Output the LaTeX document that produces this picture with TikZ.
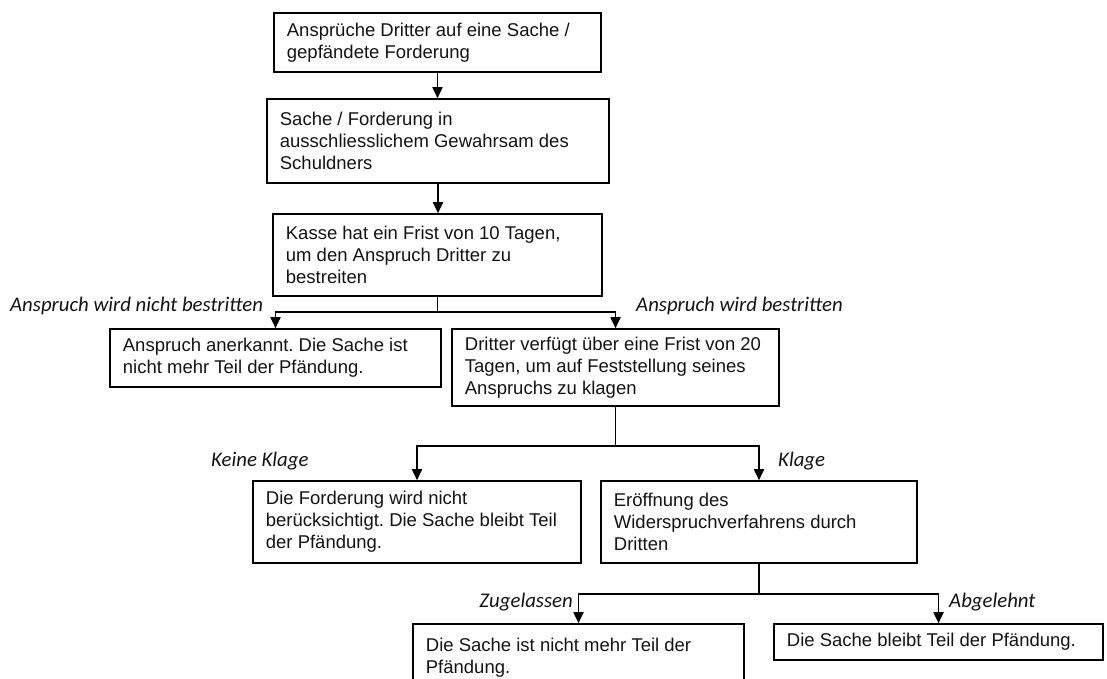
\documentclass[tikz,border=0pt]{standalone}
\usepackage{fontspec}
\setmainfont{Liberation Sans}
\newfontfamily\labfont{Carlito}
\usetikzlibrary{arrows.meta,calc}
\frenchspacing
\tikzset{
  boxstyle/.style={draw=black, line width=1.6pt, rectangle, inner sep=0pt},
  boxtext/.style={align=left, inner sep=0pt, text=black!92, font=\fontsize{18.5}{22}\selectfont},
  conn/.style={draw=black, line width=1.8pt, -{Triangle[length=11pt,width=10pt]}},
  plain/.style={draw=black, line width=1.8pt},
  lab/.style={inner sep=0pt, text=black!92, font=\labfont\itshape\fontsize{20.8}{24}\selectfont}
}
\newcommand{\flowbox}[6]{%
  \node[boxstyle, minimum width=#4pt, minimum height=#5pt] (#1) at (#2,#3) {};
  \node[boxtext, anchor=west] (#1t) at ([xshift=13.5pt]#1.west) {#6};}
\begin{document}
\begin{tikzpicture}[x=1pt,y=-1pt]
\useasboundingbox (0,0) rectangle (1107,679);
\clip (0,0) rectangle (1107,679);
\fill[white] (0,0) rectangle (1107,679);
\flowbox{b1}{437.5}{42.5}{327}{59}{Ansprüche Dritter auf eine Sache /\\gepfändete Forderung}
\flowbox{b2}{438}{141}{342}{84}{Sache / Forderung in\\ausschliesslichem Gewahrsam des\\Schuldners}
\flowbox{b3}{437.5}{255}{329}{82}{Kasse hat ein Frist von 10 Tagen,\\um den Anspruch Dritter zu\\bestreiten}
\flowbox{b4}{275.5}{358}{331}{58}{Anspruch anerkannt. Die Sache ist\\nicht mehr Teil der Pfändung.}
\flowbox{b5}{615.5}{367.5}{327}{77}{Dritter verfügt über eine Frist von 20\\Tagen, um auf Feststellung seines\\Anspruchs zu klagen}
\flowbox{b6}{417}{522}{328}{82}{Die Forderung wird nicht\\berücksichtigt. Die Sache bleibt Teil\\der Pfändung.}
\flowbox{b7}{759}{522}{316}{82}{Eröffnung des\\Widerspruchverfahrens durch\\Dritten}
\node[boxstyle, minimum width=331pt, minimum height=66pt] (b8) at (578.5,657) {};
\node[boxtext, anchor=north west] (b8t) at ([xshift=13.5pt,yshift=-15pt]b8.north west) {Die Sache ist nicht mehr Teil der\\Pfändung.};
\flowbox{b9}{938.5}{642}{329}{36}{Die Sache bleibt Teil der Pfändung.}

\draw[conn] (b1.south) -- (b1.south |- b2.north);
\draw[conn] (b2.south) -- (b2.south |- b3.north);

\coordinate (j3) at ($(b3.south)+(0,15)$);
\draw[plain] (b3.south) -- (j3);
\draw[conn] (j3) -| (b4.north);
\draw[conn] (j3) -| (b5.north);

\coordinate (j5) at ($(b5.south)+(0,39)$);
\draw[plain] (b5.south) -- (j5);
\draw[conn] (j5) -| (b6.north);
\draw[conn] (j5) -| (b7.north);

\coordinate (j7) at ($(b7.south)+(0,30)$);
\draw[plain] (b7.south) -- (j7);
\draw[conn] (j7) -| (b8.north);
\draw[conn] (j7) -| (b9.north);

\node[lab, anchor=base west] (l1) at (10,311) {Anspruch wird nicht bestritten};
\node[lab, anchor=base west] (l2) at (636,311) {Anspruch wird bestritten};
\node[lab, anchor=base west] (l3) at (211,466) {Keine Klage};
\node[lab, anchor=base west] (l4) at (778,466) {Klage};
\node[lab, anchor=base east] (l5) at (573,607) {Zugelassen};
\node[lab, anchor=base west] (l6) at (949,607) {Abgelehnt};
\end{tikzpicture}
\end{document}
